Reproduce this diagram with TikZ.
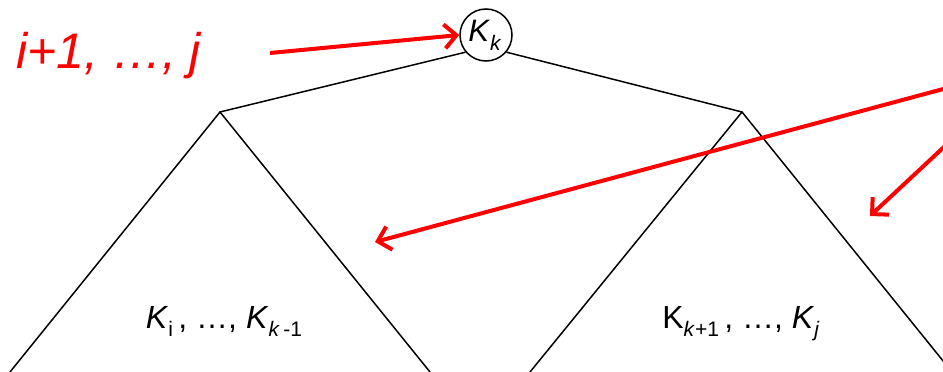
\documentclass[tikz,border=0pt]{standalone}
\usepackage{fontspec}
\setmainfont{Liberation Sans}
\usetikzlibrary{arrows.meta}
\newcommand{\subs}[1]{\raisebox{-0.28em}{\fontsize{21}{21}\selectfont #1}}
\begin{document}
\begin{tikzpicture}[x=1pt,y=-1pt,
  edge/.style={line width=1.5pt,black},
  redarrow/.style={line width=4pt,red,-{Straight Barb[length=12pt,width=24pt,line width=4pt]}},
  lbl/.style={font=\fontsize{32}{32}\selectfont,inner sep=0pt,anchor=base}]
\useasboundingbox (0,0) rectangle (943,372);
\clip (0,0) rectangle (943,372);
\node[circle,draw,line width=1.5pt,minimum size=52pt,inner sep=0pt] (root) at (486,35)
  {\fontsize{31}{31}\selectfont\hspace{-2pt}\textit{K}\subs{\textit{k}}};
\coordinate (la) at (220,112);
\coordinate (ra) at (742,112);
\coordinate (lb1) at (10,372);
\coordinate (lb2) at (430,372);
\coordinate (rb1) at (530,372);
\coordinate (rb2) at (952,372);
\draw[edge] (root.220) -- (la);
\draw[edge] (root.-40) -- (ra);
\draw[edge] (lb1) -- (la) -- (lb2);
\draw[edge] (rb1) -- (ra) -- (rb2);
\node[lbl] (lt) at (224,328) {\textit{K}\subs{i}\,, \ldots, \textit{K}\subs{\textit{k}\,-1}};
\node[lbl] (rt) at (741,328) {K\subs{\textit{k}+1}\,, \ldots, \textit{K}\subs{\textit{j}}};
\node[font=\fontsize{50}{50}\selectfont\itshape,text=red,inner sep=0pt,anchor=base west] (range) at (16,68) {i+1, \ldots, j};
\coordinate (a1s) at (270,53);
\coordinate (a2s) at (960,84.5);
\coordinate (a2e) at (375,242);
\coordinate (a3s) at (960,132);
\coordinate (a3e) at (870,216);
\draw[redarrow] (a1s) -- (root.west);
\draw[redarrow] (a2s) -- (a2e);
\draw[redarrow] (a3s) -- (a3e);
\end{tikzpicture}
\end{document}
